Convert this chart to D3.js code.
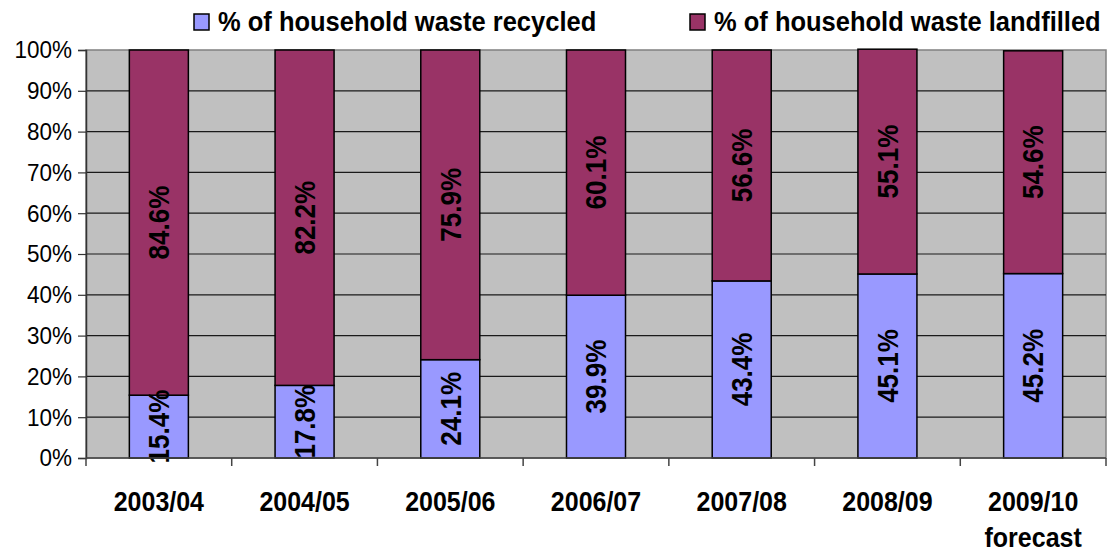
<!DOCTYPE html>
<html>
<head>
<meta charset="utf-8">
<script src="https://cdn.jsdelivr.net/npm/d3@7"></script>
<style>
  body { margin: 0; background: #fff; }
  svg { font-family: Arial, "Liberation Sans", sans-serif; }
</style>
</head>
<body>
<svg id="chart" width="1110" height="554"></svg>
<script>
// chart data
var years = ["2003/04", "2004/05", "2005/06", "2006/07", "2007/08", "2008/09", "2009/10"];
var yearNotes = ["", "", "", "", "", "", "forecast"];
var recycled = [15.4, 17.8, 24.1, 39.9, 43.4, 45.1, 45.2];
var landfilled = [84.6, 82.2, 75.9, 60.1, 56.6, 55.1, 54.6];
var seriesNames = ["% of household waste recycled", "% of household waste landfilled"];
var seriesColors = ["#9999ff", "#993366"];
var yTicks = [0, 10, 20, 30, 40, 50, 60, 70, 80, 90, 100];

var svg = d3.select("#chart");
// plot box (note: "top" is taken by window.top, so use other names)
var plotL = 86, plotR = 1106, plotT = 50, plotB = 458;
// the original font is a bit taller than Arial
var tall = 1.1;

var x = d3.scaleBand().domain(years).range([plotL, plotR]).padding(0);
var y = d3.scaleLinear().domain([0, 100]).range([plotB, plotT]);
var barW = x.bandwidth() * 0.405;

// plot background
svg.append("rect")
    .attr("x", plotL).attr("y", plotT)
    .attr("width", plotR - plotL).attr("height", plotB - plotT)
    .attr("fill", "#c0c0c0")
    .attr("stroke", "#808080").attr("stroke-width", 1.5);

// gridlines
svg.append("g").selectAll("line")
    .data(yTicks.filter(function (t) { return t > 0 && t < 100; }))
    .enter().append("line")
    .attr("x1", plotL).attr("x2", plotR)
    .attr("y1", function (d) { return y(d); })
    .attr("y2", function (d) { return y(d); })
    .attr("stroke", "#1a1a1a").attr("stroke-width", 1.2);

// stacked bars
var stackRows = years.map(function (yr, i) {
    return {year: yr, recycled: recycled[i], landfilled: landfilled[i]};
});
var stacked = d3.stack().keys(["recycled", "landfilled"])(stackRows);

var clip = svg.append("clipPath").attr("id", "plotClip");
clip.append("rect").attr("x", plotL).attr("y", 0).attr("width", plotR - plotL).attr("height", plotB + 6);

stacked.forEach(function (layer, k) {
    var g = svg.append("g");
    g.selectAll("rect")
        .data(layer)
        .enter().append("rect")
        .attr("x", function (d) { return x(d.data.year) + (x.bandwidth() - barW) / 2; })
        .attr("y", function (d) { return y(d[1]); })
        .attr("width", barW)
        .attr("height", function (d) { return y(d[0]) - y(d[1]); })
        .attr("fill", seriesColors[k])
        .attr("stroke", "#000").attr("stroke-width", 1.5);
});

// value labels, rotated
stacked.forEach(function (layer, k) {
    svg.append("g").attr("clip-path", "url(#plotClip)")
        .selectAll("text")
        .data(layer)
        .enter().append("text")
        .attr("transform", function (d) {
            var cx = x(d.data.year) + x.bandwidth() / 2;
            var cy = (y(d[0]) + y(d[1])) / 2;
            return "translate(" + cx + "," + cy + ") rotate(-90) scale(1," + tall + ")";
        })
        .attr("text-anchor", "middle")
        .attr("dy", "0.36em")
        .attr("font-size", 26)
        .attr("font-weight", "bold")
        .attr("fill", "#000")
        .text(function (d) { return (d[1] - d[0]).toFixed(1) + "%"; });
});

// y axis
var yAxis = d3.axisLeft(y).tickValues(yTicks).tickSize(8).tickPadding(6)
    .tickFormat(function (d) { return d + "%"; });
var yg = svg.append("g").attr("transform", "translate(" + plotL + ",0)").call(yAxis);
yg.select(".domain").attr("stroke", "#333").attr("stroke-width", 1.5);
yg.selectAll(".tick line").attr("stroke", "#333").attr("stroke-width", 1.2);
yg.selectAll(".tick text").attr("font-size", 22.5).attr("fill", "#000")
    .attr("transform", "scale(1," + tall + ")")
    .attr("font-family", "Arial, 'Liberation Sans', sans-serif");

// x axis line and boundary ticks
svg.append("line")
    .attr("x1", plotL).attr("x2", plotR).attr("y1", plotB).attr("y2", plotB)
    .attr("stroke", "#444").attr("stroke-width", 1.5);
var bounds = years.map(function (yr) { return x(yr); }).concat([plotR]);
svg.append("g").selectAll("line")
    .data(bounds)
    .enter().append("line")
    .attr("x1", function (d) { return d; }).attr("x2", function (d) { return d; })
    .attr("y1", plotB).attr("y2", plotB + 8)
    .attr("stroke", "#444").attr("stroke-width", 1.5);

// category labels
var cat = svg.append("g").selectAll("text")
    .data(years)
    .enter().append("text")
    .attr("transform", function (d) {
        return "translate(" + (x(d) + x.bandwidth() / 2) + ",511) scale(1," + tall + ")";
    })
    .attr("text-anchor", "middle")
    .attr("font-size", 25)
    .attr("font-weight", "bold");
cat.append("tspan").text(function (d) { return d; });
cat.append("tspan")
    .attr("x", 0)
    .attr("dy", 36 / tall)
    .text(function (d, i) { return yearNotes[i]; });

// legend
var legendX = [194, 690];
var legend = svg.append("g").selectAll("g")
    .data(seriesNames)
    .enter().append("g")
    .attr("transform", function (d, i) { return "translate(" + legendX[i] + ",0)"; });
legend.append("rect")
    .attr("x", 0).attr("y", 14).attr("width", 15).attr("height", 16)
    .attr("fill", function (d, i) { return seriesColors[i]; })
    .attr("stroke", "#000").attr("stroke-width", 1.5);
legend.append("text")
    .attr("transform", "translate(24,31) scale(1," + tall + ")")
    .attr("font-size", 25.5)
    .attr("font-weight", "bold")
    .text(function (d) { return d; });
</script>
</body>
</html>
